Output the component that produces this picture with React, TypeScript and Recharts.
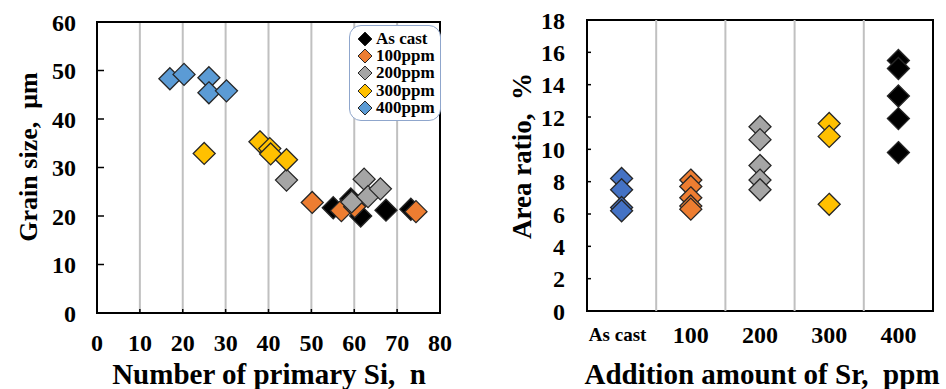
import React from "react"
import {
  ScatterChart,
  Scatter,
  XAxis,
  YAxis,
  CartesianGrid,
  ReferenceArea,
  ReferenceLine,
} from "recharts"

// left chart: number of primary Si vs grain size
const asCastSi = [55.1, 59.2, 61.5, 67.4, 73.2]
const asCastGrain = [21.7, 23.5, 20.0, 21.2, 21.4]
const ppm100Si = [50.2, 57.0, 60.1, 74.4]
const ppm100Grain = [22.8, 21.1, 21.9, 20.9]
const ppm200Si = [44.2, 59.4, 62.3, 63.2, 66.1]
const ppm200Grain = [27.4, 22.9, 27.6, 24.0, 25.6]
const ppm300Si = [25.0, 38.0, 40.3, 40.5, 44.2]
const ppm300Grain = [32.9, 35.3, 33.9, 32.8, 31.6]
const ppm400Si = [17.0, 20.3, 26.1, 26.1, 30.2]
const ppm400Grain = [48.3, 49.2, 48.5, 45.4, 45.8]

const siTicks = [0, 10, 20, 30, 40, 50, 60, 70, 80]
const grainTicks = [0, 10, 20, 30, 40, 50, 60]

// right chart: Sr addition vs area ratio
const srCategories = ["As cast", "100", "200", "300", "400"]
const asCastArea = [8.2, 7.5, 6.4, 6.2]
const ppm100Area = [8.1, 7.7, 7.0, 6.5, 6.3]
const ppm200Area = [11.4, 10.6, 9.0, 8.1, 7.5]
const ppm300Area = [11.6, 10.8, 6.6]
const ppm400Area = [15.5, 15.0, 13.3, 11.9, 9.8]
const areaTicks = [0, 2, 4, 6, 8, 10, 12, 14, 16, 18]
const srBoundaries = [1, 2, 3, 4]

const legendNames = ["As cast", "100ppm", "200ppm", "300ppm", "400ppm"]
const colors = ["#000000", "#ED7D31", "#A5A5A5", "#FFC000", "#5B9BD5"]
const rightColors = ["#4472C4", "#ED7D31", "#A5A5A5", "#FFC000", "#000000"]

const FONT = "'Liberation Serif', 'Times New Roman', serif"

const toPoints = (xs: number[], ys: number[]) => xs.map((x, i) => ({ x, y: ys[i] }))
const columnPoints = (idx: number, ys: number[]) => ys.map((y) => ({ x: idx + 0.5, y }))

const leftSeries = [
  toPoints(asCastSi, asCastGrain),
  toPoints(ppm100Si, ppm100Grain),
  toPoints(ppm200Si, ppm200Grain),
  toPoints(ppm300Si, ppm300Grain),
  toPoints(ppm400Si, ppm400Grain),
]
const rightSeries = [asCastArea, ppm100Area, ppm200Area, ppm300Area, ppm400Area].map((ys, i) =>
  columnPoints(i, ys)
)

function diamond(r: number) {
  return (props: any) => {
    const { cx, cy, fill } = props
    if (cx == null || cy == null) return <g />
    return (
      <path
        d={`M${cx},${cy - r}L${cx + r},${cy}L${cx},${cy + r}L${cx - r},${cy}Z`}
        fill={fill}
        stroke="#262626"
        strokeWidth={1.3}
      />
    )
  }
}

const tickStyle = { fontFamily: FONT, fontWeight: 700, fontSize: 24, fill: "#000" }

function Title({ text, cx, cy, size, rotate }: { text: string; cx: number; cy: number; size: number; rotate?: boolean }) {
  return (
    <div
      style={{
        position: "absolute",
        left: cx,
        top: cy,
        transform: `translate(-50%, -50%)${rotate ? " rotate(-90deg)" : ""}`,
        whiteSpace: "pre",
        fontFamily: FONT,
        fontWeight: 700,
        fontSize: size,
        lineHeight: `${size + 2}px`,
        color: "#000",
      }}
    >
      {text}
    </div>
  )
}

function SrTick(props: any) {
  const { x, y, payload } = props
  const label = srCategories[Math.round(payload.value - 0.5)]
  const small = label === "As cast"
  return (
    <text
      x={x}
      y={y}
      dy={small ? 18 : 20}
      dx={small ? -4 : 0}
      textAnchor="middle"
      fontFamily={FONT}
      fontWeight={700}
      fontSize={small ? 19 : 24}
      fill="#000"
    >
      {label}
    </text>
  )
}

function LegendBox() {
  return (
    <div
      style={{
        position: "absolute",
        left: 349,
        top: 25,
        width: 92,
        height: 96,
        border: "1.5px solid #8FA6CC",
        borderRadius: 12,
        background: "#fff",
        boxSizing: "border-box",
        paddingTop: 4,
      }}
    >
      {legendNames.map((n, i) => (
        <div key={n} style={{ display: "flex", alignItems: "center", height: 17.3 }}>
          <svg width={22} height={16} style={{ marginLeft: 4 }}>
            <path d="M11,1L18,8L11,15L4,8Z" fill={colors[i]} stroke="#262626" strokeWidth={1} />
          </svg>
          <span style={{ fontFamily: FONT, fontWeight: 700, fontSize: 17, color: "#000" }}>{n}</span>
        </div>
      ))}
    </div>
  )
}

export default function App() {
  return (
    <div style={{ position: "absolute", left: 0, top: 0, width: 946, height: 389, background: "#fff", overflow: "hidden" }}>
      <div style={{ position: "absolute", left: 0, top: 0 }}>
        <ScatterChart width={470} height={389} margin={{ top: 22, right: 30, bottom: 0, left: 0 }}>
          <CartesianGrid horizontal={false} stroke="#C0C0C0" strokeWidth={2} />
          <XAxis
            type="number"
            dataKey="x"
            domain={[0, 80]}
            ticks={siTicks}
            height={76}
            tickSize={-4}
            tickMargin={25}
            tick={tickStyle}
            axisLine={false}
            tickLine={{ stroke: "#000", strokeWidth: 1.5 }}
            interval={0}
          />
          <YAxis
            type="number"
            dataKey="y"
            domain={[0, 60]}
            ticks={grainTicks}
            width={97}
            tickSize={-7}
            tickMargin={28}
            tick={tickStyle}
            axisLine={false}
            tickLine={{ stroke: "#000", strokeWidth: 1.5 }}
            interval={0}
          />
          <ReferenceArea x1={0} x2={80} y1={0} y2={60} fill="none" fillOpacity={0} stroke="#000" strokeWidth={2} />
          {leftSeries.map((pts, i) => (
            <Scatter
              key={legendNames[i]}
              name={legendNames[i]}
              data={pts}
              fill={colors[i]}
              shape={diamond(11)}
              isAnimationActive={false}
            />
          ))}
        </ScatterChart>
        <LegendBox />
      </div>
      <div style={{ position: "absolute", left: 470, top: 0 }}>
        <ScatterChart width={476} height={389} margin={{ top: 20, right: 13, bottom: 0, left: 0 }}>
          {srBoundaries.map((b) => (
            <ReferenceLine key={b} x={b} stroke="#C0C0C0" strokeWidth={2} />
          ))}
          <XAxis
            type="number"
            dataKey="x"
            domain={[0, 5]}
            ticks={[0.5, 1.5, 2.5, 3.5, 4.5]}
            height={78}
            tickSize={0}
            tickMargin={12}
            tick={<SrTick />}
            axisLine={false}
            tickLine={false}
            interval={0}
          />
          <YAxis
            type="number"
            dataKey="y"
            domain={[0, 18]}
            ticks={areaTicks}
            width={117}
            tickSize={-4}
            tickMargin={26}
            tick={tickStyle}
            axisLine={false}
            tickLine={{ stroke: "#000", strokeWidth: 1.5 }}
            interval={0}
          />
          <ReferenceArea x1={0} x2={5} y1={0} y2={18} fill="none" fillOpacity={0} stroke="#000" strokeWidth={2} />
          {rightSeries.map((pts, i) => (
            <Scatter
              key={srCategories[i]}
              name={srCategories[i]}
              data={pts}
              fill={rightColors[i]}
              shape={diamond(11)}
              isAnimationActive={false}
            />
          ))}
        </ScatterChart>
      </div>
      <Title text="Grain size,  μm" cx={29} cy={157} size={26} rotate />
      <Title text="Number of primary Si,  n" cx={269} cy={374} size={29} />
      <Title text="Area ratio,  %" cx={522} cy={156} size={27} rotate />
      <Title text="Addition amount of Sr,  ppm" cx={762} cy={374} size={29} />
    </div>
  )
}
